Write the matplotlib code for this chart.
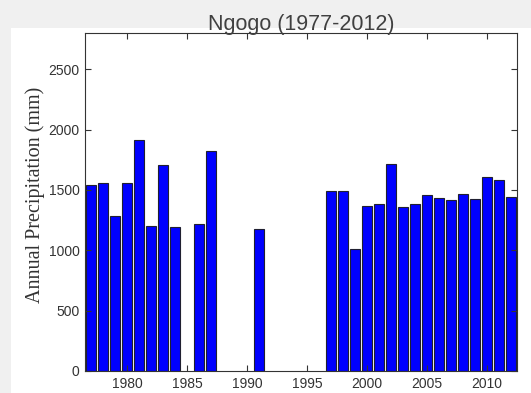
import matplotlib
matplotlib.use("Agg")
import matplotlib.pyplot as plt
from matplotlib.patches import Rectangle

# Annual precipitation at Ngogo, missing years left out
years = [1977, 1978, 1979, 1980, 1981, 1982, 1983, 1984, 1986, 1987, 1991,
         1997, 1998, 1999, 2000, 2001, 2002, 2003, 2004, 2005, 2006, 2007,
         2008, 2009, 2010, 2011, 2012]
precip = [1540, 1560, 1280, 1560, 1910, 1200, 1705, 1195, 1220, 1820, 1175,
          1490, 1490, 1010, 1365, 1385, 1715, 1355, 1385, 1455, 1435, 1415,
          1465, 1425, 1610, 1580, 1445]
yticks = [0, 500, 1000, 1500, 2000, 2500]
xticks = [1980, 1985, 1990, 1995, 2000, 2005, 2010]

plt.rcParams["font.family"] = ["Liberation Sans", "DejaVu Sans"]

W, H = 531, 393
fig = plt.figure(figsize=(W / 100, H / 100), dpi=100, facecolor="#f0f0f0")
# white plotting area as in the screenshot
fig.add_artist(Rectangle((11 / W, 0), 1 - 11 / W, 1 - 28 / H,
                         transform=fig.transFigure, facecolor="white",
                         edgecolor="none", zorder=-10))

ax = fig.add_axes([85 / W, 1 - 371 / H, (517 - 85) / W, (371 - 33) / H])
ax.bar(years, precip, width=0.82, color="#0000ff", edgecolor="#202030",
       linewidth=0.8)

ax.set_xlim(1976.5, 2012.5)
ax.set_ylim(0, 2800)
ax.set_xticks(xticks)
ax.set_yticks(yticks)
ax.tick_params(direction="in", length=4, width=0.8, top=True, right=True,
               labelsize=10, colors="#333333", pad=4)
for s in ax.spines.values():
    s.set_color("#333333")
    s.set_linewidth(0.8)

ax.set_ylabel("Annual Precipitation (mm)", family="Liberation Serif",
              fontsize=14.5, color="#333333")
ax.yaxis.set_label_coords(-0.092, 0.52)
ax.set_title("Ngogo (1977-2012)", fontsize=15.5, color="#404040", pad=2)

fig.savefig("out.png", dpi=100, facecolor=fig.get_facecolor())
